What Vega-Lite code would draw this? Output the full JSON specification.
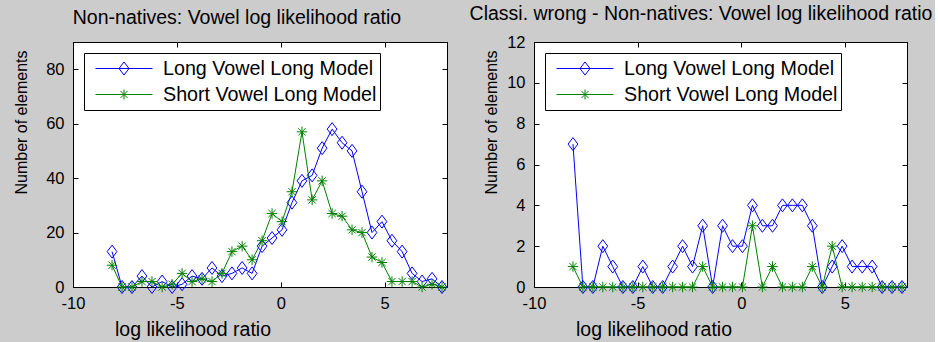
{
  "$schema": "https://vega.github.io/schema/vega-lite/v6.json",
  "background": "#cccccc",
  "padding": {"left": 12, "top": 3, "right": 2, "bottom": 4},
  "config": {
    "view": {"stroke": "black", "strokeWidth": 1, "fill": "white"},
    "font": "Liberation Sans",
    "axis": {"grid": false, "domainColor": "black", "domainWidth": 1, "tickColor": "black", "tickWidth": 1, "tickSize": -5, "labelColor": "black", "labelFont": "Liberation Sans", "labelFontSize": 16.5, "titleFont": "Liberation Sans", "titleFontWeight": "normal", "titleColor": "black", "titleFontSize": 16, "labelFlush": false, "labelOverlap": false},
    "axisX": {"labelPadding": 13, "titleFontSize": 19.5},
    "axisY": {"labelPadding": 14, "titleFontSize": 16},
    "axisLeft": {"titleFontSize": 16},
    "title": {"font": "Liberation Sans", "fontSize": 19.5, "fontWeight": "normal", "color": "black", "anchor": "middle", "baseline": "alphabetic"},
    "legend": {"title": null, "orient": "top-left", "offset": 11, "fillColor": "white", "strokeColor": "black", "padding": 3, "symbolOffset": 8, "symbolSize": 3249, "symbolStrokeWidth": 1, "symbolType": "stroke", "clipHeight": 25, "rowPadding": 1, "labelOffset": 10, "labelFontSize": 19.7, "labelFont": "Liberation Sans", "labelColor": "black", "labelLimit": 400}
  },
  "datasets": {
    "left": [
      {"x": -8.12, "n": 13, "series": "Long Vowel Long Model"},
      {"x": -7.64, "n": 0, "series": "Long Vowel Long Model"},
      {"x": -7.16, "n": 0, "series": "Long Vowel Long Model"},
      {"x": -6.68, "n": 4, "series": "Long Vowel Long Model"},
      {"x": -6.20, "n": 0, "series": "Long Vowel Long Model"},
      {"x": -5.71, "n": 2, "series": "Long Vowel Long Model"},
      {"x": -5.23, "n": 0, "series": "Long Vowel Long Model"},
      {"x": -4.75, "n": 1, "series": "Long Vowel Long Model"},
      {"x": -4.27, "n": 4, "series": "Long Vowel Long Model"},
      {"x": -3.79, "n": 3, "series": "Long Vowel Long Model"},
      {"x": -3.31, "n": 7, "series": "Long Vowel Long Model"},
      {"x": -2.83, "n": 4, "series": "Long Vowel Long Model"},
      {"x": -2.35, "n": 5, "series": "Long Vowel Long Model"},
      {"x": -1.86, "n": 7, "series": "Long Vowel Long Model"},
      {"x": -1.38, "n": 5, "series": "Long Vowel Long Model"},
      {"x": -0.90, "n": 15, "series": "Long Vowel Long Model"},
      {"x": -0.42, "n": 18, "series": "Long Vowel Long Model"},
      {"x": 0.06, "n": 21, "series": "Long Vowel Long Model"},
      {"x": 0.54, "n": 31, "series": "Long Vowel Long Model"},
      {"x": 1.02, "n": 39, "series": "Long Vowel Long Model"},
      {"x": 1.51, "n": 41, "series": "Long Vowel Long Model"},
      {"x": 1.99, "n": 51, "series": "Long Vowel Long Model"},
      {"x": 2.47, "n": 58, "series": "Long Vowel Long Model"},
      {"x": 2.95, "n": 53, "series": "Long Vowel Long Model"},
      {"x": 3.43, "n": 50, "series": "Long Vowel Long Model"},
      {"x": 3.91, "n": 35, "series": "Long Vowel Long Model"},
      {"x": 4.39, "n": 20, "series": "Long Vowel Long Model"},
      {"x": 4.87, "n": 24, "series": "Long Vowel Long Model"},
      {"x": 5.35, "n": 17, "series": "Long Vowel Long Model"},
      {"x": 5.84, "n": 13, "series": "Long Vowel Long Model"},
      {"x": 6.32, "n": 5, "series": "Long Vowel Long Model"},
      {"x": 6.80, "n": 2, "series": "Long Vowel Long Model"},
      {"x": 7.28, "n": 3, "series": "Long Vowel Long Model"},
      {"x": 7.76, "n": 0, "series": "Long Vowel Long Model"},
      {"x": -8.12, "n": 8, "series": "Short Vowel Long Model"},
      {"x": -7.64, "n": 0, "series": "Short Vowel Long Model"},
      {"x": -7.16, "n": 0, "series": "Short Vowel Long Model"},
      {"x": -6.68, "n": 2, "series": "Short Vowel Long Model"},
      {"x": -6.20, "n": 2, "series": "Short Vowel Long Model"},
      {"x": -5.71, "n": 0, "series": "Short Vowel Long Model"},
      {"x": -5.23, "n": 1, "series": "Short Vowel Long Model"},
      {"x": -4.75, "n": 5, "series": "Short Vowel Long Model"},
      {"x": -4.27, "n": 2, "series": "Short Vowel Long Model"},
      {"x": -3.79, "n": 3, "series": "Short Vowel Long Model"},
      {"x": -3.31, "n": 2, "series": "Short Vowel Long Model"},
      {"x": -2.83, "n": 5, "series": "Short Vowel Long Model"},
      {"x": -2.35, "n": 13, "series": "Short Vowel Long Model"},
      {"x": -1.86, "n": 15, "series": "Short Vowel Long Model"},
      {"x": -1.38, "n": 10, "series": "Short Vowel Long Model"},
      {"x": -0.90, "n": 17, "series": "Short Vowel Long Model"},
      {"x": -0.42, "n": 27, "series": "Short Vowel Long Model"},
      {"x": 0.06, "n": 24, "series": "Short Vowel Long Model"},
      {"x": 0.54, "n": 35, "series": "Short Vowel Long Model"},
      {"x": 1.02, "n": 57, "series": "Short Vowel Long Model"},
      {"x": 1.51, "n": 32, "series": "Short Vowel Long Model"},
      {"x": 1.99, "n": 39, "series": "Short Vowel Long Model"},
      {"x": 2.47, "n": 27, "series": "Short Vowel Long Model"},
      {"x": 2.95, "n": 26, "series": "Short Vowel Long Model"},
      {"x": 3.43, "n": 21, "series": "Short Vowel Long Model"},
      {"x": 3.91, "n": 20, "series": "Short Vowel Long Model"},
      {"x": 4.39, "n": 11, "series": "Short Vowel Long Model"},
      {"x": 4.87, "n": 9, "series": "Short Vowel Long Model"},
      {"x": 5.35, "n": 2, "series": "Short Vowel Long Model"},
      {"x": 5.84, "n": 2, "series": "Short Vowel Long Model"},
      {"x": 6.32, "n": 2, "series": "Short Vowel Long Model"},
      {"x": 6.80, "n": 0, "series": "Short Vowel Long Model"},
      {"x": 7.28, "n": 1, "series": "Short Vowel Long Model"},
      {"x": 7.76, "n": 0, "series": "Short Vowel Long Model"}
    ],
    "right": [
      {"x": -8.12, "n": 7, "series": "Long Vowel Long Model"},
      {"x": -7.64, "n": 0, "series": "Long Vowel Long Model"},
      {"x": -7.16, "n": 0, "series": "Long Vowel Long Model"},
      {"x": -6.68, "n": 2, "series": "Long Vowel Long Model"},
      {"x": -6.20, "n": 1, "series": "Long Vowel Long Model"},
      {"x": -5.71, "n": 0, "series": "Long Vowel Long Model"},
      {"x": -5.23, "n": 0, "series": "Long Vowel Long Model"},
      {"x": -4.75, "n": 1, "series": "Long Vowel Long Model"},
      {"x": -4.27, "n": 0, "series": "Long Vowel Long Model"},
      {"x": -3.79, "n": 0, "series": "Long Vowel Long Model"},
      {"x": -3.31, "n": 1, "series": "Long Vowel Long Model"},
      {"x": -2.83, "n": 2, "series": "Long Vowel Long Model"},
      {"x": -2.35, "n": 1, "series": "Long Vowel Long Model"},
      {"x": -1.86, "n": 3, "series": "Long Vowel Long Model"},
      {"x": -1.38, "n": 0, "series": "Long Vowel Long Model"},
      {"x": -0.90, "n": 3, "series": "Long Vowel Long Model"},
      {"x": -0.42, "n": 2, "series": "Long Vowel Long Model"},
      {"x": 0.06, "n": 2, "series": "Long Vowel Long Model"},
      {"x": 0.54, "n": 4, "series": "Long Vowel Long Model"},
      {"x": 1.02, "n": 3, "series": "Long Vowel Long Model"},
      {"x": 1.51, "n": 3, "series": "Long Vowel Long Model"},
      {"x": 1.99, "n": 4, "series": "Long Vowel Long Model"},
      {"x": 2.47, "n": 4, "series": "Long Vowel Long Model"},
      {"x": 2.95, "n": 4, "series": "Long Vowel Long Model"},
      {"x": 3.43, "n": 3, "series": "Long Vowel Long Model"},
      {"x": 3.91, "n": 0, "series": "Long Vowel Long Model"},
      {"x": 4.39, "n": 1, "series": "Long Vowel Long Model"},
      {"x": 4.87, "n": 2, "series": "Long Vowel Long Model"},
      {"x": 5.35, "n": 1, "series": "Long Vowel Long Model"},
      {"x": 5.84, "n": 1, "series": "Long Vowel Long Model"},
      {"x": 6.32, "n": 1, "series": "Long Vowel Long Model"},
      {"x": 6.80, "n": 0, "series": "Long Vowel Long Model"},
      {"x": 7.28, "n": 0, "series": "Long Vowel Long Model"},
      {"x": 7.76, "n": 0, "series": "Long Vowel Long Model"},
      {"x": -8.12, "n": 1, "series": "Short Vowel Long Model"},
      {"x": -7.64, "n": 0, "series": "Short Vowel Long Model"},
      {"x": -7.16, "n": 0, "series": "Short Vowel Long Model"},
      {"x": -6.68, "n": 0, "series": "Short Vowel Long Model"},
      {"x": -6.20, "n": 0, "series": "Short Vowel Long Model"},
      {"x": -5.71, "n": 0, "series": "Short Vowel Long Model"},
      {"x": -5.23, "n": 0, "series": "Short Vowel Long Model"},
      {"x": -4.75, "n": 0, "series": "Short Vowel Long Model"},
      {"x": -4.27, "n": 0, "series": "Short Vowel Long Model"},
      {"x": -3.79, "n": 0, "series": "Short Vowel Long Model"},
      {"x": -3.31, "n": 0, "series": "Short Vowel Long Model"},
      {"x": -2.83, "n": 0, "series": "Short Vowel Long Model"},
      {"x": -2.35, "n": 0, "series": "Short Vowel Long Model"},
      {"x": -1.86, "n": 1, "series": "Short Vowel Long Model"},
      {"x": -1.38, "n": 0, "series": "Short Vowel Long Model"},
      {"x": -0.90, "n": 0, "series": "Short Vowel Long Model"},
      {"x": -0.42, "n": 0, "series": "Short Vowel Long Model"},
      {"x": 0.06, "n": 0, "series": "Short Vowel Long Model"},
      {"x": 0.54, "n": 3, "series": "Short Vowel Long Model"},
      {"x": 1.02, "n": 0, "series": "Short Vowel Long Model"},
      {"x": 1.51, "n": 1, "series": "Short Vowel Long Model"},
      {"x": 1.99, "n": 0, "series": "Short Vowel Long Model"},
      {"x": 2.47, "n": 0, "series": "Short Vowel Long Model"},
      {"x": 2.95, "n": 0, "series": "Short Vowel Long Model"},
      {"x": 3.43, "n": 1, "series": "Short Vowel Long Model"},
      {"x": 3.91, "n": 0, "series": "Short Vowel Long Model"},
      {"x": 4.39, "n": 2, "series": "Short Vowel Long Model"},
      {"x": 4.87, "n": 0, "series": "Short Vowel Long Model"},
      {"x": 5.35, "n": 0, "series": "Short Vowel Long Model"},
      {"x": 5.84, "n": 0, "series": "Short Vowel Long Model"},
      {"x": 6.32, "n": 0, "series": "Short Vowel Long Model"},
      {"x": 6.80, "n": 0, "series": "Short Vowel Long Model"},
      {"x": 7.28, "n": 0, "series": "Short Vowel Long Model"},
      {"x": 7.76, "n": 0, "series": "Short Vowel Long Model"}
    ]
  },
  "spacing": 87,
  "bounds": "flush",
  "resolve": {"scale": {"color": "independent"}, "legend": {"color": "independent"}},
  "hconcat": [
    {
      "title": {"text": "Non-natives: Vowel log likelihood ratio", "dx": -23, "offset": 13},
      "width": 374,
      "height": 245,
      "data": {"name": "left"},
      "resolve": {"axis": {"x": "independent", "y": "independent"}},
      "layer": [
        {
          "mark": {"type": "line", "strokeWidth": 1},
          "encoding": {
            "x": {"field": "x", "type": "quantitative", "scale": {"domain": [-10, 8], "nice": false, "zero": false}, "axis": {"orient": "bottom", "values": [-10, -5, 0, 5], "title": "log likelihood ratio", "titleFontSize": 19.5, "labelExpr": "'' + datum.value", "titleX": 119.5, "titleY": 42, "titleBaseline": "middle", "titleAlign": "center"}},
            "y": {"field": "n", "type": "quantitative", "scale": {"domain": [0, 90], "nice": false}, "axis": {"orient": "left", "values": [0, 20, 40, 60, 80], "title": "Number of elements", "titleFontSize": 16, "titleX": -52, "titleY": 80, "titleBaseline": "middle", "titleAlign": "center", "titleAngle": -90}},
            "color": {"field": "series", "type": "nominal", "scale": {"domain": ["Long Vowel Long Model", "Short Vowel Long Model"], "range": ["#0000ff", "#008000"]}, "legend": {"encode": {"symbols": {"update": {"shape": {"signal": "datum.value === 'Long Vowel Long Model' ? 'M-1,0L1,0M0,-0.23L0.175,0L0,0.23L-0.175,0Z' : 'M-1,0L1,0M0,-0.175L0,0.175M-0.124,-0.124L0.124,0.124M-0.124,0.124L0.124,-0.124'"}, "fill": {"value": "transparent"}, "strokeWidth": {"value": 1}}}}}}
          }
        },
        {
          "mark": {"type": "point", "filled": false, "strokeWidth": 1, "opacity": 1},
          "encoding": {
            "x": {"field": "x", "type": "quantitative", "scale": {"domain": [-10, 8], "nice": false, "zero": false}, "axis": {"orient": "top", "values": [-10, -5, 0, 5], "labels": false, "title": null}},
            "y": {"field": "n", "type": "quantitative", "scale": {"domain": [0, 90], "nice": false}, "axis": {"orient": "right", "values": [0, 20, 40, 60, 80], "labels": false, "title": null}},
            "color": {"field": "series", "type": "nominal"},
            "shape": {"condition": {"test": "datum.series === 'Long Vowel Long Model'", "value": "M0,-1L0.75,0L0,1L-0.75,0Z"}, "value": "M-1,0L1,0M0,-1L0,1M-0.7,-0.7L0.7,0.7M-0.7,0.7L0.7,-0.7"},
            "size": {"condition": {"test": "datum.series === 'Long Vowel Long Model'", "value": 169}, "value": 110}
          }
        }
      ]
    },
    {
      "title": {"text": "Classi. wrong - Non-natives: Vowel log likelihood ratio", "dx": -19.5, "offset": 10},
      "width": 373,
      "height": 245,
      "data": {"name": "right"},
      "resolve": {"axis": {"x": "independent", "y": "independent"}},
      "layer": [
        {
          "mark": {"type": "line", "strokeWidth": 1},
          "encoding": {
            "x": {"field": "x", "type": "quantitative", "scale": {"domain": [-10, 8], "nice": false, "zero": false}, "axis": {"orient": "bottom", "values": [-10, -5, 0, 5], "title": "log likelihood ratio", "titleFontSize": 19.5, "labelExpr": "'' + datum.value", "titleX": 119.5, "titleY": 42, "titleBaseline": "middle", "titleAlign": "center"}},
            "y": {"field": "n", "type": "quantitative", "scale": {"domain": [0, 12], "nice": false}, "axis": {"orient": "left", "values": [0, 2, 4, 6, 8, 10, 12], "title": "Number of elements", "titleFontSize": 16, "titleX": -43, "titleY": 80, "titleBaseline": "middle", "titleAlign": "center", "titleAngle": -90}},
            "color": {"field": "series", "type": "nominal", "scale": {"domain": ["Long Vowel Long Model", "Short Vowel Long Model"], "range": ["#0000ff", "#008000"]}, "legend": {"encode": {"symbols": {"update": {"shape": {"signal": "datum.value === 'Long Vowel Long Model' ? 'M-1,0L1,0M0,-0.23L0.175,0L0,0.23L-0.175,0Z' : 'M-1,0L1,0M0,-0.175L0,0.175M-0.124,-0.124L0.124,0.124M-0.124,0.124L0.124,-0.124'"}, "fill": {"value": "transparent"}, "strokeWidth": {"value": 1}}}}}}
          }
        },
        {
          "mark": {"type": "point", "filled": false, "strokeWidth": 1, "opacity": 1},
          "encoding": {
            "x": {"field": "x", "type": "quantitative", "scale": {"domain": [-10, 8], "nice": false, "zero": false}, "axis": {"orient": "top", "values": [-10, -5, 0, 5], "labels": false, "title": null}},
            "y": {"field": "n", "type": "quantitative", "scale": {"domain": [0, 12], "nice": false}, "axis": {"orient": "right", "values": [0, 2, 4, 6, 8, 10, 12], "labels": false, "title": null}},
            "color": {"field": "series", "type": "nominal"},
            "shape": {"condition": {"test": "datum.series === 'Long Vowel Long Model'", "value": "M0,-1L0.75,0L0,1L-0.75,0Z"}, "value": "M-1,0L1,0M0,-1L0,1M-0.7,-0.7L0.7,0.7M-0.7,0.7L0.7,-0.7"},
            "size": {"condition": {"test": "datum.series === 'Long Vowel Long Model'", "value": 169}, "value": 110}
          }
        }
      ]
    }
  ]
}
